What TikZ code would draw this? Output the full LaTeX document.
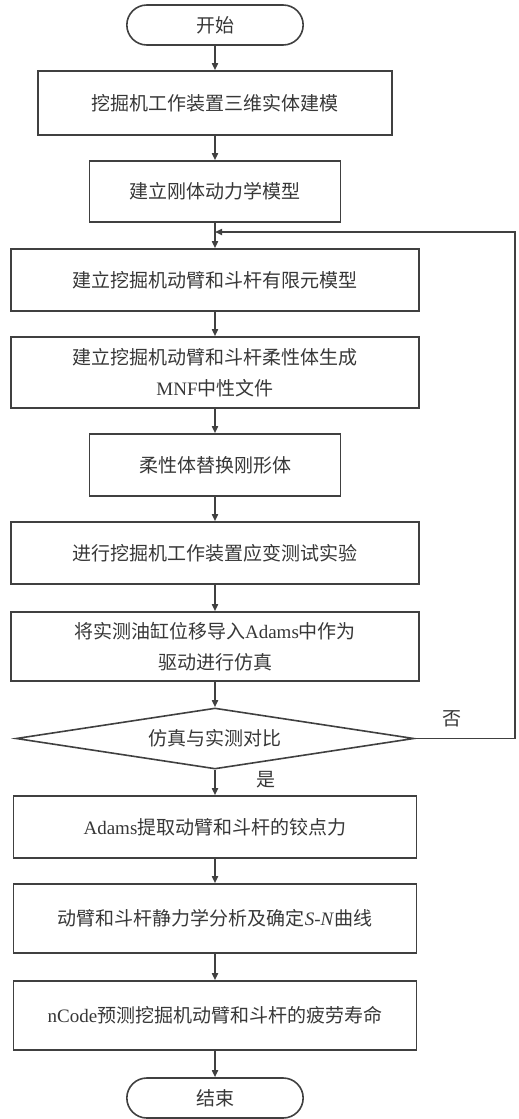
\documentclass[tikz,border=0pt]{standalone}
\usepackage{fontspec}
\setmainfont{Liberation Serif}
\newfontfamily\cjk{Noto Sans CJK SC}
\usepackage{xcolor}
\usetikzlibrary{shapes.geometric, shapes.misc, arrows.meta}
\definecolor{linegray}{RGB}{64, 64, 64}
\definecolor{textgray}{RGB}{55, 55, 55}
\newcommand{\en}[1]{{\rmfamily #1}}

\begin{document}
\begin{tikzpicture}[
  x=1pt, y=-1pt,
  font=\cjk\fontsize{19pt}{31pt}\selectfont,
  box/.style={draw=linegray, line width=1.6pt, minimum width=#1, minimum height=62pt, align=center, text=textgray, inner sep=2pt},
  box/.default=408pt,
  term/.style={rounded rectangle, draw=linegray, line width=1.6pt, minimum width=183pt, minimum height=40pt, text=textgray},
  judge/.style={diamond, draw=linegray, line width=1.6pt, minimum width=398pt, minimum height=61pt, aspect=6.5, inner sep=0pt, text=textgray},
  arr/.style={-{Triangle[length=7pt, width=6pt]}, line width=1.6pt, linegray},
  lab/.style={text=textgray}
]
\useasboundingbox (0,0) rectangle (519,1119);
% 建模与仿真
\node[term] (start) at (215,25) {开始};
\node[box=354pt, minimum height=64pt] (model) at (215,103) {挖掘机工作装置三维实体建模};
\node[box=251pt, minimum height=61pt] (rigid) at (215,191.5) {建立刚体动力学模型};
\node[box] (fem) at (215,280) {建立挖掘机动臂和斗杆有限元模型};
\node[box, minimum height=71pt] (mnf) at (215,372.5) {建立挖掘机动臂和斗杆柔性体生成\\\en{MNF}中性文件};
\node[box=251pt] (swap) at (215,465) {柔性体替换刚形体};
\node[box] (test) at (215,553) {进行挖掘机工作装置应变测试实验};
\node[box, minimum height=69pt] (drive) at (215,646.5) {将实测油缸位移导入\en{Adams}中作为\\驱动进行仿真};
\node[judge] (comp) at (215,738.5) {仿真与实测对比};
% 载荷与寿命
\node[box=403pt] (force) at (215,827) {\en{Adams}提取动臂和斗杆的铰点力};
\node[box=403pt, minimum height=69pt] (sn) at (215,918.5) {动臂和斗杆静力学分析及确定\en{\textit{S}-\textit{N}}曲线};
\node[box=403pt, minimum height=69pt] (life) at (215,1015.5) {\en{nCode}预测挖掘机动臂和斗杆的疲劳寿命};
\node[term] (stop) at (215,1098) {结束};
% 回路
\coordinate (ret) at (215,232);
\coordinate (rx) at (515,232);
\node[lab] (no) at (452,719) {否};
\node[lab] (yes) at (266,780) {是};
% 箭头
\draw[arr] (start) -- (model);
\draw[arr] (model) -- (rigid);
\draw[arr] (rigid) -- (fem);
\draw[arr] (fem) -- (mnf);
\draw[arr] (mnf) -- (swap);
\draw[arr] (swap) -- (test);
\draw[arr] (test) -- (drive);
\draw[arr] (drive) -- (comp);
\draw[arr] (comp) -- (force);
\draw[arr] (force) -- (sn);
\draw[arr] (sn) -- (life);
\draw[arr] (life) -- (stop);
\draw[arr] (comp.east) -| (rx) -- (ret);
\end{tikzpicture}
\end{document}
